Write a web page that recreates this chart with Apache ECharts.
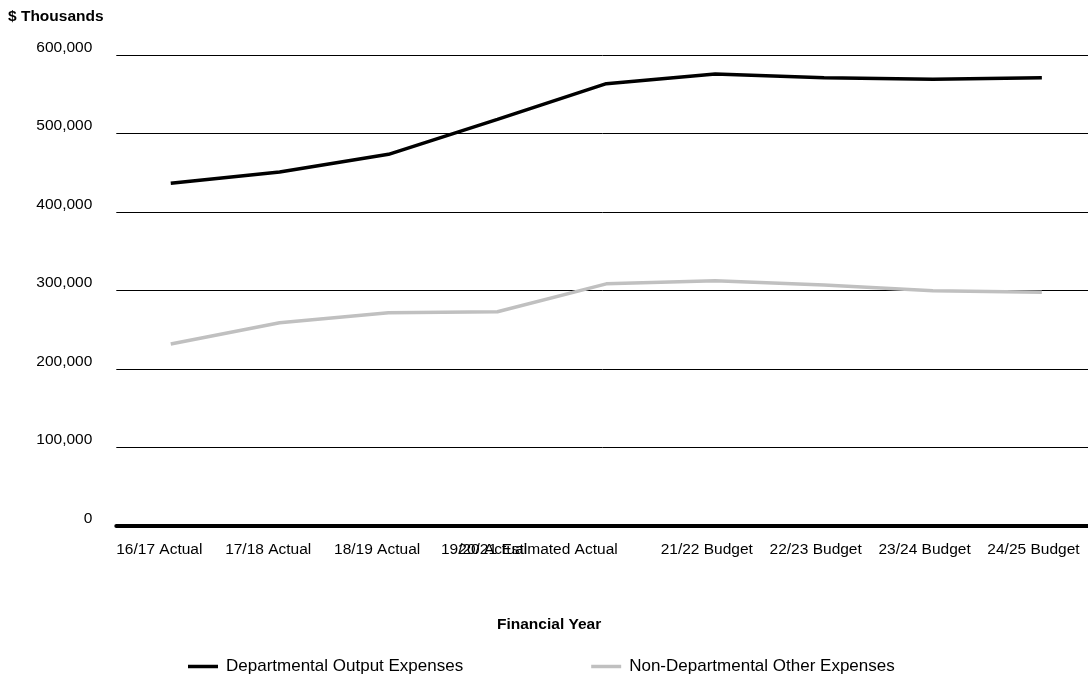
<!DOCTYPE html>
<html>
<head>
<meta charset="utf-8">
<script src="https://cdn.jsdelivr.net/npm/echarts@6/dist/echarts.min.js"></script>
<style>
html,body{margin:0;padding:0;background:#fff;}
#chart{width:1088px;height:677px;}
</style>
</head>
<body>
<div id="chart"></div>
<script>
const categories = ['16/17 Actual','17/18 Actual','18/19 Actual','19/20 Actual','20/21 Estimated Actual','21/22 Budget','22/23 Budget','23/24 Budget','24/25 Budget'];
const departmentalOutput = [436500, 451000, 473500, 518000, 563500, 575800, 571000, 569000, 571000];
const nonDepartmentalOther = [231800, 259000, 271700, 273000, 308500, 312500, 307000, 299700, 297700];
const yTicks = [0, 100000, 200000, 300000, 400000, 500000, 600000];
const seriesNames = ['Departmental Output Expenses', 'Non-Departmental Other Expenses'];

const FONT = "'Liberation Sans', Arial, sans-serif";
const chart = echarts.init(document.getElementById('chart'), null, {renderer: 'canvas'});

// label box widths (label text starts at the left of its box, box centred on category)
const labelBox = [109, 109, 109, 113, 296, 109, 109, 109, 109];
const rich = {};
labelBox.forEach((w, i) => {
  rich['c' + i] = {width: w, align: 'left', fontSize: 15.5, fontFamily: FONT, color: '#000'};
});

chart.setOption({
  animation: false,
  backgroundColor: '#fff',
  title: [
    {text: '$ Thousands', left: 8, top: 9, padding: 0,
     textStyle: {fontSize: 15.5, fontWeight: 'bold', fontFamily: FONT, color: '#000'}},
    {text: 'Financial Year', left: 497, top: 617, padding: 0,
     textStyle: {fontSize: 15.5, fontWeight: 'bold', fontFamily: FONT, color: '#000'}}
  ],
  legend: {
    left: 188, top: 658, padding: 0,
    icon: 'rect', itemWidth: 30, itemHeight: 3.5, itemGap: 128,
    textStyle: {fontSize: 17, fontFamily: FONT, color: '#000', padding: [0, 0, 0, 3]},
    data: seriesNames
  },
  grid: {left: 116.3, width: 980, top: 55, bottom: 151, containLabel: false, outerBoundsMode: 'none'},
  xAxis: {
    type: 'category',
    data: categories,
    boundaryGap: true,
    axisLine: {show: true, lineStyle: {color: '#000', width: 4}},
    axisTick: {show: false},
    splitLine: {show: false},
    axisLabel: {
      interval: 0, margin: 16, align: 'center',
      formatter: function (v, i) { return '{c' + i + '|' + v + '}'; },
      rich: rich
    }
  },
  yAxis: {
    type: 'value',
    min: yTicks[0], max: yTicks[yTicks.length - 1], interval: yTicks[1] - yTicks[0],
    axisLine: {show: false},
    axisTick: {show: false},
    splitLine: {show: true, lineStyle: {color: '#000', width: 1}},
    axisLabel: {
      margin: 24, fontSize: 15.5, fontFamily: FONT, color: '#000',
      verticalAlign: 'bottom', lineHeight: 15
    }
  },
  series: [
    {
      name: seriesNames[0], type: 'line', data: departmentalOutput,
      symbol: 'none', lineStyle: {color: '#000', width: 3.5}, itemStyle: {color: '#000'}
    },
    {
      name: seriesNames[1], type: 'line', data: nonDepartmentalOther,
      symbol: 'none', lineStyle: {color: '#c0c0c0', width: 3.5}, itemStyle: {color: '#c0c0c0'}
    }
  ]
});
</script>
</body>
</html>
